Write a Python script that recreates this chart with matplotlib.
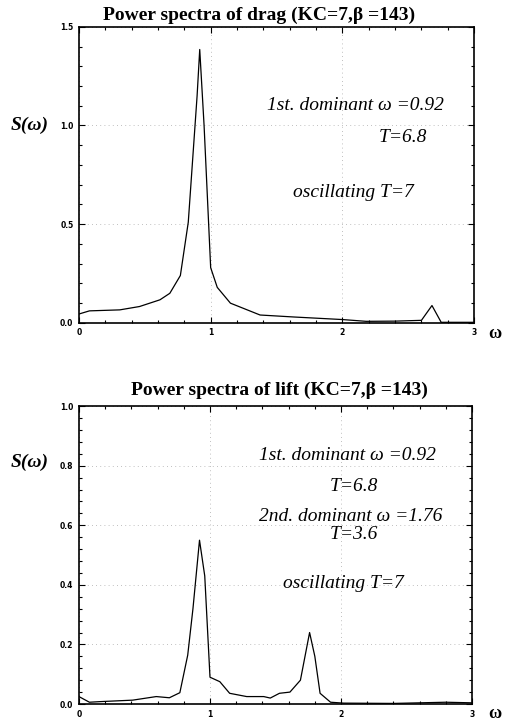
import matplotlib
matplotlib.use("Agg")
import matplotlib.pyplot as plt
from matplotlib.ticker import MultipleLocator

# drag spectrum (KC=7, beta=143)
drag_w = [0.0, 0.08, 0.31, 0.46, 0.615, 0.69, 0.77, 0.83, 0.897, 0.917, 0.95, 1.0,
          1.05, 1.15, 1.375, 1.63, 2.0, 2.18, 2.4, 2.6, 2.68, 2.75, 3.0]
drag_s = [0.045, 0.061, 0.066, 0.083, 0.117, 0.15, 0.24, 0.51, 1.15, 1.385, 1.0, 0.28,
          0.18, 0.10, 0.04, 0.03, 0.017, 0.008, 0.009, 0.013, 0.088, 0.003, 0.003]

# lift spectrum (KC=7, beta=143)
lift_w = [0.0, 0.08, 0.16, 0.41, 0.59, 0.69, 0.77, 0.83, 0.87, 0.92, 0.96, 1.0,
          1.075, 1.15, 1.28, 1.41, 1.46, 1.53, 1.61, 1.69, 1.76, 1.80, 1.84, 1.92,
          2.02, 2.4, 2.8, 3.0]
lift_s = [0.025, 0.006, 0.008, 0.013, 0.025, 0.021, 0.038, 0.164, 0.32, 0.55, 0.43, 0.09,
          0.075, 0.036, 0.025, 0.025, 0.02, 0.036, 0.04, 0.08, 0.24, 0.16, 0.036, 0.006,
          0.003, 0.002, 0.006, 0.004]

drag_title = "Power spectra of drag (KC=7,β =143)"
lift_title = "Power spectra of lift (KC=7,β =143)"
drag_notes = [("1st. dominant ω =0.92", 2.1, 1.10), ("T=6.8", 2.46, 0.94),
              ("oscillating T=7", 2.08, 0.66)]
lift_notes = [("1st. dominant ω =0.92", 2.05, 0.835), ("T=6.8", 2.1, 0.73),
              ("2nd. dominant ω =1.76", 2.07, 0.63), ("T=3.6", 2.1, 0.57),
              ("oscillating T=7", 2.02, 0.406)]

serif = "Liberation Serif"
fig = plt.figure(figsize=(5.06, 7.24), dpi=100)
ax1 = fig.add_axes([0.156, 0.554, 0.781, 0.409])
ax2 = fig.add_axes([0.156, 0.0276, 0.777, 0.4114])


def style(ax, ymax, ymajor, yminor):
    ax.set_xlim(0, 3)
    ax.set_ylim(0, ymax)
    ax.xaxis.set_major_locator(MultipleLocator(1))
    ax.xaxis.set_minor_locator(MultipleLocator(0.2))
    ax.yaxis.set_major_locator(MultipleLocator(ymajor))
    ax.yaxis.set_minor_locator(MultipleLocator(yminor))
    ax.yaxis.set_major_formatter(lambda v, p: f"{v:.1f}")
    ax.xaxis.set_major_formatter(lambda v, p: f"{v:.0f}")
    ax.tick_params(which="both", direction="in", top=True, right=True, width=0.8)
    ax.tick_params(which="major", length=4, labelsize=5.5, pad=4)
    ax.tick_params(which="minor", length=2)
    for lab in ax.get_xticklabels() + ax.get_yticklabels():
        lab.set_fontweight("bold")
    for sp in ax.spines.values():
        sp.set_linewidth(1.2)
    ax.grid(True, which="major", color="#aaaaaa", linestyle=(0, (1, 4)), linewidth=0.6)


style(ax1, 1.5, 0.5, 0.1)
ax1.plot(drag_w, drag_s, color="black", linewidth=0.9)
ax1.set_title(drag_title, family=serif, fontweight="bold", fontsize=14, pad=5, x=0.456)
for txt, x, y in drag_notes:
    ax1.text(x, y, txt, family=serif, style="italic", fontsize=14, ha="center", va="center")

style(ax2, 1.0, 0.2, 0.04)
ax2.plot(lift_w, lift_s, color="black", linewidth=0.9)
ax2.set_title(lift_title, family=serif, fontweight="bold", fontsize=14, pad=8, x=0.511)
for txt, x, y in lift_notes:
    ax2.text(x, y, txt, family=serif, style="italic", fontsize=14, ha="center", va="center")

fig.text(30 / 506, 1 - 125 / 724, "S(ω)", family=serif, style="italic", fontweight="bold",
         fontsize=14, ha="center", va="center")
fig.text(30 / 506, 1 - 462 / 724, "S(ω)", family=serif, style="italic", fontweight="bold",
         fontsize=14, ha="center", va="center")
fig.text(495 / 506, 1 - 333 / 724, "ω", family=serif, fontweight="bold", fontsize=13,
         ha="center", va="center")
fig.text(495 / 506, 1 - 714 / 724, "ω", family=serif, fontweight="bold", fontsize=13,
         ha="center", va="center")

fig.savefig("out.png", dpi=100)
